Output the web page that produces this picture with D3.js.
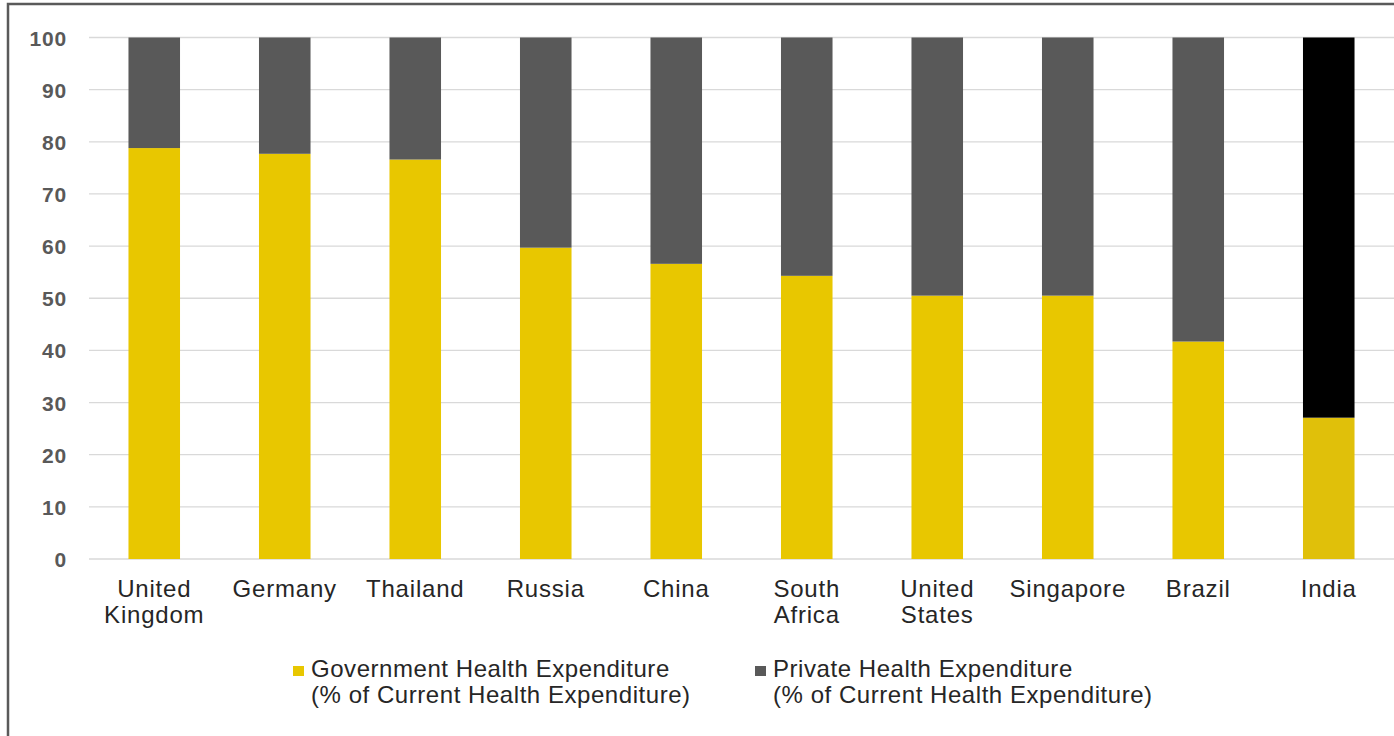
<!DOCTYPE html>
<html>
<head>
<meta charset="utf-8">
<script src="https://cdn.jsdelivr.net/npm/d3@7"></script>
<style>
  html, body { margin: 0; padding: 0; background: #fff; }
  svg { display: block; }
</style>
</head>
<body>
<svg id="chart" width="1394" height="736"></svg>
<script>
// Share of current health expenditure by source, per country
const countries = ["United Kingdom", "Germany", "Thailand", "Russia", "China",
                   "South Africa", "United States", "Singapore", "Brazil", "India"];
const governmentShare = [78.8, 77.7, 76.6, 59.7, 56.6, 54.3, 50.5, 50.5, 41.7, 27.1];
const privateShare    = [21.2, 22.3, 23.4, 40.3, 43.4, 45.7, 49.5, 49.5, 58.3, 72.9];
const yTicks = [0, 10, 20, 30, 40, 50, 60, 70, 80, 90, 100];
const legendLabels = [
  ["Government Health Expenditure", "(% of Current Health Expenditure)"],
  ["Private Health Expenditure", "(% of Current Health Expenditure)"]
];

const W = 1394, H = 736;
const svg = d3.select("#chart");
const font = "'Liberation Sans', Arial, sans-serif";

const colGov = "#e8c700";
const colGovHi = "#e0c00a";
const colPriv = "#595959";
const colPrivHi = "#000000";

// outer frame
svg.append("rect")
  .attr("x", 8).attr("y", 4)
  .attr("width", W + 10).attr("height", H + 10)
  .attr("fill", "none").attr("stroke", "#5a5a5a").attr("stroke-width", 2.5);

const plot = { left: 89, right: 1394, top: 37.5, bottom: 559 };

const x = d3.scaleBand().domain(countries)
  .range([plot.left, plot.right]).paddingInner(0.605).paddingOuter(0.3025);
const y = d3.scaleLinear().domain([0, 100]).range([plot.bottom, plot.top]);

// gridlines
svg.append("g").selectAll("line").data(yTicks).join("line")
  .attr("x1", plot.left).attr("x2", plot.right)
  .attr("y1", d => y(d)).attr("y2", d => y(d))
  .attr("stroke", "#d9d9d9").attr("stroke-width", 1.3);

// y-axis labels
const yAxis = svg.append("g")
  .attr("transform", `translate(${plot.left - 22},0)`)
  .call(d3.axisLeft(y).tickValues(yTicks).tickSize(0).tickPadding(0).tickFormat(d3.format("d")));
yAxis.select(".domain").remove();
yAxis.selectAll("text")
  .attr("font-family", font).attr("font-size", 21).attr("font-weight", "bold")
  .attr("letter-spacing", 0.8)
  .attr("fill", "#595959").attr("dy", "0.36em");

// stacked bars
const rows = countries.map((c, i) => ({ country: c, gov: governmentShare[i], priv: privateShare[i], i }));
const bars = svg.append("g");
bars.selectAll("rect.gov").data(rows).join("rect")
  .attr("class", "gov")
  .attr("x", d => x(d.country)).attr("width", x.bandwidth())
  .attr("y", d => y(d.gov)).attr("height", d => y(0) - y(d.gov))
  .attr("fill", d => d.country === "India" ? colGovHi : colGov);
bars.selectAll("rect.priv").data(rows).join("rect")
  .attr("class", "priv")
  .attr("x", d => x(d.country)).attr("width", x.bandwidth())
  .attr("y", d => y(d.gov + d.priv)).attr("height", d => y(d.gov) - y(d.gov + d.priv))
  .attr("fill", d => d.country === "India" ? colPrivHi : colPriv);

// category labels
const xl = svg.append("g");
rows.forEach(d => {
  const words = d.country.split(" ");
  const cx = x(d.country) + x.bandwidth() / 2;
  const t = xl.append("text")
    .attr("x", cx).attr("y", 597)
    .attr("text-anchor", "middle")
    .attr("letter-spacing", 0.8)
    .attr("font-family", font).attr("font-size", 24).attr("fill", "#262626");
  words.forEach((w, k) => {
    t.append("tspan").attr("x", cx).attr("dy", k === 0 ? 0 : 26).text(w);
  });
});

// legend
const legendX = [293, 755];
const legendColors = [colGov, colPriv];
legendLabels.forEach((lines, k) => {
  const g = svg.append("g");
  g.append("rect").attr("x", legendX[k]).attr("y", 666)
    .attr("width", 11).attr("height", 10).attr("fill", legendColors[k]);
  const t = g.append("text")
    .attr("letter-spacing", 0.55)
    .attr("font-family", font).attr("font-size", 24).attr("fill", "#262626");
  t.append("tspan").attr("x", legendX[k] + 18).attr("y", 677).text(lines[0]);
  t.append("tspan").attr("x", legendX[k] + 18).attr("y", 703).text(lines[1]);
});
</script>
</body>
</html>
